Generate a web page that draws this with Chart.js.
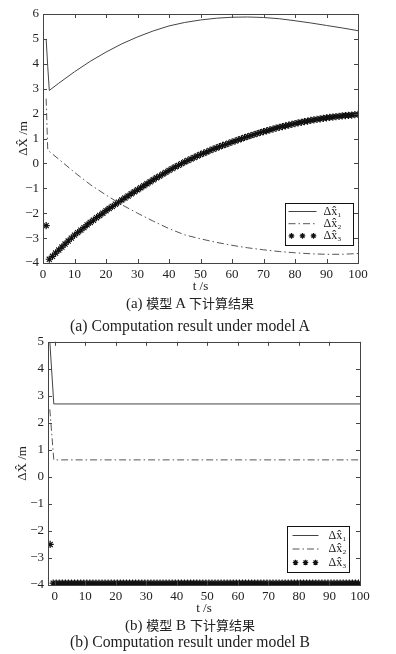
<!DOCTYPE html>
<html>
<head>
<meta charset="utf-8">
<script src="https://cdn.jsdelivr.net/npm/chart.js@4.4.1/dist/chart.umd.min.js"></script>
<style>
  body { margin: 0; background: #fff; }
  #page { position: relative; width: 396px; height: 654px; font-family: 'Liberation Serif', 'Noto Sans CJK SC', serif; color: #222; }
  .wrap { position: absolute; left: 0; width: 396px; }
  #wrapA { top: 0; height: 294px; }
  #wrapB { top: 330px; height: 286px; }
  .cap { position: absolute; left: 0; width: 380px; text-align: center; font-size: 14px; line-height: 16px; white-space: nowrap; }
  .cap.zh { font-size: 15px; }
  .cap .hz { font-family: 'Noto Sans CJK SC', sans-serif; font-size: 13px; }
  .cap span { display: inline-block; }
</style>
</head>
<body>
<div id="page">
  <div class="wrap" id="wrapA"><canvas id="chartA" width="396" height="294"></canvas></div>
  <div class="cap zh" style="top:295px">(a) <span class="hz">模型</span> A <span class="hz">下计算结果</span></div>
  <div class="cap en" style="top:318px" data-w="240"><span>(a) Computation result under model A</span></div>
  <div class="wrap" id="wrapB"><canvas id="chartB" width="396" height="286"></canvas></div>
  <div class="cap zh" style="top:617px">(b) <span class="hz">模型</span> B <span class="hz">下计算结果</span></div>
  <div class="cap en" style="top:634px" data-w="240"><span>(b) Computation result under model B</span></div>
</div>
<script>
// shared
const tTicks = [0, 10, 20, 30, 40, 50, 60, 70, 80, 90, 100];
const labels = ['Δx\u0302\u2081', 'Δx\u0302\u2082', 'Δx\u0302\u2083'];

// model A
const yTicksA = [-4, -3, -2, -1, 0, 1, 2, 3, 4, 5, 6];
const tA = [1, 1.5, 2, 5, 10, 15, 20, 25, 30, 35, 40, 45, 50, 55, 60, 65, 70, 75, 80, 85, 90, 95, 100];
const dxA1 = [5.0, 3.9, 2.93, 3.22, 3.68, 4.1, 4.47, 4.8, 5.08, 5.32, 5.52, 5.66, 5.76, 5.83, 5.87, 5.88, 5.86, 5.81, 5.73, 5.64, 5.54, 5.44, 5.33];
const dxA2 = [2.6, 0.55, 0.48, 0.17, -0.36, -0.85, -1.27, -1.66, -2.0, -2.32, -2.62, -2.87, -3.03, -3.17, -3.29, -3.39, -3.47, -3.54, -3.59, -3.63, -3.65, -3.65, -3.62];
// stars, one per second from t = 1
const dxA3 = [
  -2.5, -3.85, -3.73, -3.60, -3.48, -3.36, -3.24, -3.12, -3.00, -2.88,
  -2.78, -2.68, -2.58, -2.47, -2.37, -2.28, -2.18, -2.09, -2.00, -1.90,
  -1.81, -1.73, -1.64, -1.56, -1.47, -1.39, -1.31, -1.22, -1.14, -1.06,
  -0.98, -0.90, -0.82, -0.74, -0.66, -0.58, -0.51, -0.43, -0.36, -0.28,
  -0.21, -0.14, -0.08, -0.01, 0.06, 0.12, 0.18, 0.24, 0.30, 0.36,
  0.41, 0.46, 0.52, 0.57, 0.62, 0.67, 0.72, 0.76, 0.81, 0.86,
  0.90, 0.95, 0.99, 1.04, 1.08, 1.12, 1.16, 1.20, 1.24, 1.28,
  1.31, 1.35, 1.38, 1.42, 1.45, 1.48, 1.51, 1.54, 1.57, 1.60,
  1.63, 1.65, 1.68, 1.70, 1.73, 1.75, 1.77, 1.79, 1.81, 1.83,
  1.85, 1.86, 1.88, 1.89, 1.91, 1.92, 1.93, 1.94, 1.96, 1.97
];
const tA3 = dxA3.map((v, i) => i + 1);

// model B
const yTicksB = [-4, -3, -2, -1, 0, 1, 2, 3, 4, 5];
const tB = [-1.6, -0.3, 100];
const dxB1 = [5.0, 2.7, 2.7];
const dxB2 = [2.5, 0.63, 0.63];
// first star is the outlier at t = -1.5, then one per second from t = -0.5
const dxB3 = [
  -2.5,
  -3.93, -3.93, -3.93, -3.93, -3.93, -3.93, -3.93, -3.93, -3.93, -3.93,
  -3.93, -3.93, -3.93, -3.93, -3.93, -3.93, -3.93, -3.93, -3.93, -3.93,
  -3.93, -3.93, -3.93, -3.93, -3.93, -3.93, -3.93, -3.93, -3.93, -3.93,
  -3.93, -3.93, -3.93, -3.93, -3.93, -3.93, -3.93, -3.93, -3.93, -3.93,
  -3.93, -3.93, -3.93, -3.93, -3.93, -3.93, -3.93, -3.93, -3.93, -3.93,
  -3.93, -3.93, -3.93, -3.93, -3.93, -3.93, -3.93, -3.93, -3.93, -3.93,
  -3.93, -3.93, -3.93, -3.93, -3.93, -3.93, -3.93, -3.93, -3.93, -3.93,
  -3.93, -3.93, -3.93, -3.93, -3.93, -3.93, -3.93, -3.93, -3.93, -3.93,
  -3.93, -3.93, -3.93, -3.93, -3.93, -3.93, -3.93, -3.93, -3.93, -3.93,
  -3.93, -3.93, -3.93, -3.93, -3.93, -3.93, -3.93, -3.93, -3.93, -3.93,
  -3.93
];
const tB3 = dxB3.map((v, i) => i === 0 ? -1.5 : i - 1.5);

const font = { family: "'Liberation Serif', serif", size: 13 };
const ink = '#222';
const frameColor = '#444';

const pts = (ts, vs) => vs.map((v, i) => ({ x: ts[i], y: v }));
const fmt = v => v < 0 ? '\u2212' + (-v) : String(v);

function starPath(ctx, x, y, r) {
  ctx.beginPath();
  ctx.moveTo(x - r, y); ctx.lineTo(x + r, y);
  ctx.moveTo(x, y - r); ctx.lineTo(x, y + r);
  const d = r * Math.SQRT1_2;
  ctx.moveTo(x - d, y - d); ctx.lineTo(x + d, y + d);
  ctx.moveTo(x - d, y + d); ctx.lineTo(x + d, y - d);
  ctx.stroke();
}

// box frame with inward ticks, and the legend inside the plot
const boxPlugin = {
  id: 'boxPlugin',
  afterDatasetsDraw(chart, args, o) {
    const { ctx, chartArea: a, scales } = chart;
    ctx.save();
    ctx.strokeStyle = frameColor;
    ctx.lineWidth = 1;
    ctx.strokeRect(Math.round(a.left) + 0.5, Math.round(a.top) + 0.5, Math.round(a.right - a.left), Math.round(a.bottom - a.top));
    ctx.beginPath();
    scales.x.ticks.forEach(t => {
      const x = Math.round(scales.x.getPixelForValue(t.value)) + 0.5;
      ctx.moveTo(x, a.bottom); ctx.lineTo(x, a.bottom - 4);
      ctx.moveTo(x, a.top); ctx.lineTo(x, a.top + 4);
    });
    scales.y.ticks.forEach(t => {
      const y = Math.round(scales.y.getPixelForValue(t.value)) + 0.5;
      ctx.moveTo(a.left, y); ctx.lineTo(a.left + 4, y);
      ctx.moveTo(a.right, y); ctx.lineTo(a.right - 4, y);
    });
    ctx.stroke();

    // legend
    const x1 = Math.round(a.right - o.right) + 0.5, x0 = x1 - o.width;
    const y1 = Math.round(a.bottom - o.bottom) + 0.5, y0 = y1 - o.height;
    ctx.fillStyle = '#fff';
    ctx.fillRect(x0, y0, o.width, o.height);
    ctx.strokeStyle = '#111';
    ctx.strokeRect(x0, y0, o.width, o.height);
    chart.data.datasets.forEach((ds, i) => {
      const y = y0 + o.rowTop + i * o.rowGap;
      const sx0 = x0 + o.sample[0], sx1 = x0 + o.sample[1];
      if (ds.showLine === false) {
        ctx.strokeStyle = ds.pointBorderColor;
        ctx.lineWidth = 1.2;
        [0, 0.5, 1].forEach(f => starPath(ctx, sx0 + 3 + f * (sx1 - sx0 - 6), y, 2.8));
      } else {
        ctx.strokeStyle = ds.borderColor;
        ctx.lineWidth = ds.borderWidth;
        ctx.setLineDash(ds.borderDash || []);
        ctx.beginPath();
        ctx.moveTo(sx0, y); ctx.lineTo(sx1, y);
        ctx.stroke();
        ctx.setLineDash([]);
      }
      ctx.fillStyle = ink;
      ctx.font = "12px 'Liberation Serif', 'DejaVu Serif', serif";
      ctx.textBaseline = 'middle';
      ctx.fillText(ds.label, x0 + o.textX, y);
    });
    ctx.restore();
  }
};

function datasets(d1, d2, d3) {
  return [
    { label: labels[0], data: d1, borderColor: '#444', borderWidth: 1, pointRadius: 0, tension: 0 },
    { label: labels[1], data: d2, borderColor: '#555', borderWidth: 1, pointRadius: 0,
      borderDash: [7, 3, 1.5, 3], tension: 0 },
    { label: labels[2], data: d3, showLine: false, pointStyle: 'star', pointRadius: 3.6,
      pointBorderColor: '#111', pointBorderWidth: 1.2, pointBackgroundColor: '#111' }
  ];
}

function buildChart(id, c) {
  return new Chart(document.getElementById(id), {
    type: 'line',
    data: { datasets: c.datasets },
    options: {
      responsive: false,
      animation: false,
      layout: { padding: c.padding },
      plugins: {
        legend: { display: false },
        tooltip: { enabled: false },
        boxPlugin: c.legend
      },
      scales: {
        x: {
          type: 'linear', min: c.xMin, max: 100,
          afterBuildTicks: s => { s.ticks = tTicks.map(v => ({ value: v })); },
          afterFit: s => { s.height = c.xHeight; },
          grid: { display: false, drawTicks: false }, border: { display: false },
          ticks: { autoSkip: false, maxRotation: 0, padding: 4, color: ink, font },
          title: { display: true, text: 't /s', padding: 0, color: ink, font }
        },
        y: {
          min: c.yTicks[0], max: c.yTicks[c.yTicks.length - 1],
          afterBuildTicks: s => { s.ticks = c.yTicks.map(v => ({ value: v })); },
          afterFit: s => { s.width = c.yWidth; },
          grid: { display: false, drawTicks: false }, border: { display: false },
          ticks: { padding: 4, color: ink, font, callback: fmt },
          title: { display: true, text: 'ΔX\u0302 /m', padding: 0, color: ink, font }
        }
      }
    },
    plugins: [boxPlugin]
  });
}

buildChart('chartA', {
  datasets: datasets(pts(tA, dxA1), pts(tA, dxA2), pts(tA3, dxA3)),
  padding: { left: 16, top: 14, right: 38, bottom: 0 },
  xMin: 0, xHeight: 31, yWidth: 27, yTicks: yTicksA,
  legend: { right: 5, bottom: 18, width: 68, height: 42, rowTop: 8, rowGap: 12.2, sample: [3, 31], textX: 38 }
});

buildChart('chartB', {
  datasets: datasets(pts(tB, dxB1), pts(tB, dxB2), pts(tB3, dxB3)),
  padding: { left: 15, top: 8, right: 36, bottom: 0 },
  xMin: -2.2, xHeight: 31, yWidth: 33, yTicks: yTicksB,
  legend: { right: 11, bottom: 13, width: 62, height: 46, rowTop: 9, rowGap: 13.5, sample: [5, 31], textX: 41 }
});

// stretch the English captions to the width they take in the figure
document.querySelectorAll('.cap.en').forEach(el => {
  const span = el.querySelector('span');
  const w = span.getBoundingClientRect().width;
  el.style.fontSize = (14 * Number(el.dataset.w) / w).toFixed(2) + 'px';
});
</script>
</body>
</html>
